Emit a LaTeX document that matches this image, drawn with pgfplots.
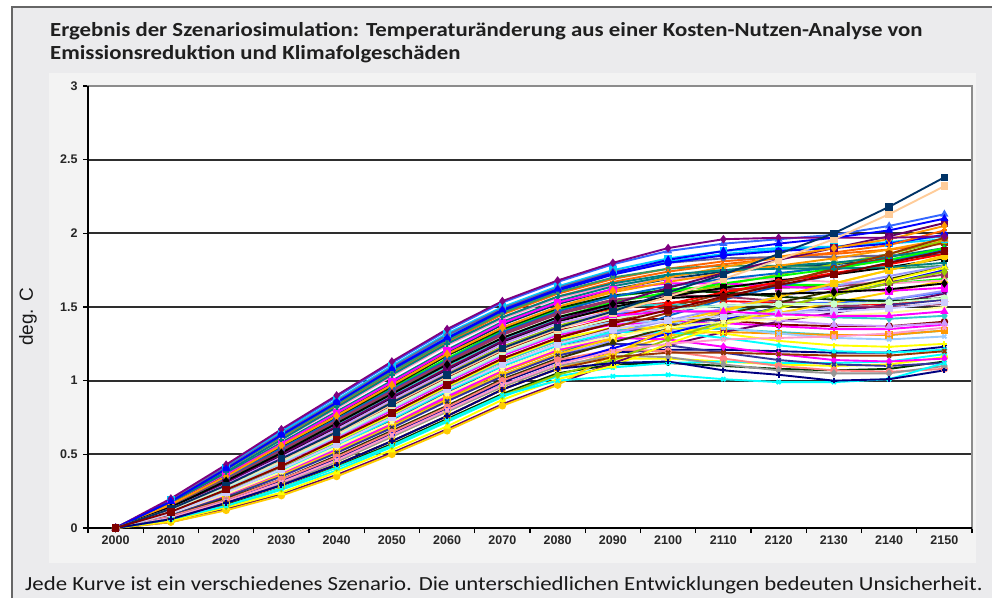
\documentclass[border=0pt]{standalone}
\usepackage{pgfplots}
\pgfplotsset{compat=1.18}
\usepackage{pgfplotstable}
\usepackage{fontspec}
\setmainfont{Carlito}
\newfontfamily\widef[FakeStretch=1.14]{Carlito}
\newfontfamily\arialf{Liberation Sans}
\definecolor{outerbg}{HTML}{EBEBED}
\definecolor{innerbg}{HTML}{F3F3F3}
\definecolor{framegray}{HTML}{666666}
\definecolor{c1}{HTML}{000080}
\definecolor{c2}{HTML}{FF00FF}
\definecolor{c3}{HTML}{FFFF00}
\definecolor{c4}{HTML}{00FFFF}
\definecolor{c5}{HTML}{800080}
\definecolor{c6}{HTML}{800000}
\definecolor{c7}{HTML}{008080}
\definecolor{c8}{HTML}{0000FF}
\definecolor{c9}{HTML}{00CCFF}
\definecolor{c10}{HTML}{CCFFCC}
\definecolor{c11}{HTML}{FFFF99}
\definecolor{c12}{HTML}{99CCFF}
\definecolor{c13}{HTML}{FF99CC}
\definecolor{c14}{HTML}{CC99FF}
\definecolor{c15}{HTML}{FFCC99}
\definecolor{c16}{HTML}{3366FF}
\definecolor{c17}{HTML}{33CCCC}
\definecolor{c18}{HTML}{99CC00}
\definecolor{c19}{HTML}{FFCC00}
\definecolor{c20}{HTML}{FF9900}
\definecolor{c21}{HTML}{FF6600}
\definecolor{c22}{HTML}{666699}
\definecolor{c23}{HTML}{969696}
\definecolor{c24}{HTML}{003366}
\definecolor{c25}{HTML}{339966}
\definecolor{c26}{HTML}{003300}
\definecolor{c27}{HTML}{333300}
\definecolor{c28}{HTML}{993300}
\definecolor{c29}{HTML}{993366}
\definecolor{c30}{HTML}{333399}
\definecolor{c31}{HTML}{000000}
\definecolor{c32}{HTML}{FF0000}
\definecolor{c33}{HTML}{00FF00}
\definecolor{c34}{HTML}{9999FF}
\definecolor{c35}{HTML}{FF8080}
\definecolor{c36}{HTML}{0066CC}
\definecolor{c37}{HTML}{660066}
\definecolor{c38}{HTML}{CCCCFF}

% one row per scenario, one column per year
\pgfplotstableread[header=has colnames]{
2000 2010 2020 2030 2040 2050 2060 2070 2080 2090 2100 2110 2120 2130 2140 2150
0 .20 .43 .67 .90 1.13 1.35 1.54 1.68 1.80 1.90 1.96 1.97 1.97 1.97 1.98
0 .19 .42 .66 .89 1.12 1.34 1.53 1.67 1.79 1.88 1.93 1.96 1.99 2.05 2.13
0 .19 .41 .65 .87 1.10 1.32 1.50 1.64 1.75 1.83 1.88 1.90 1.91 1.93 1.96
0 .19 .41 .64 .86 1.09 1.31 1.49 1.63 1.74 1.80 1.83 1.84 1.84 1.85 1.87
0 .18 .40 .63 .85 1.07 1.28 1.47 1.61 1.72 1.80 1.85 1.88 1.90 1.93 1.99
0 .18 .39 .62 .84 1.06 1.27 1.46 1.60 1.70 1.76 1.78 1.78 1.77 1.76 1.78
0 .18 .38 .60 .82 1.04 1.25 1.43 1.57 1.67 1.74 1.79 1.83 1.87 1.92 2.02
0 .17 .38 .60 .81 1.03 1.24 1.42 1.56 1.65 1.69 1.70 1.69 1.67 1.66 1.68
0 .17 .37 .58 .79 1.00 1.21 1.40 1.54 1.64 1.71 1.75 1.78 1.80 1.84 1.90
0 .16 .36 .57 .78 .99 1.20 1.39 1.53 1.62 1.66 1.66 1.64 1.62 1.61 1.63
0 .16 .35 .56 .76 .97 1.18 1.36 1.50 1.60 1.67 1.73 1.78 1.83 1.89 1.96
0 .16 .35 .55 .75 .96 1.17 1.35 1.49 1.58 1.61 1.60 1.57 1.55 1.54 1.56
0 .15 .34 .54 .74 .94 1.14 1.33 1.47 1.57 1.64 1.69 1.73 1.77 1.82 1.88
0 .15 .33 .53 .73 .93 1.13 1.32 1.46 1.55 1.58 1.57 1.54 1.51 1.50 1.52
0 .14 .32 .51 .71 .91 1.11 1.29 1.43 1.53 1.60 1.66 1.71 1.76 1.82 1.90
0 .14 .32 .51 .70 .90 1.10 1.28 1.42 1.50 1.52 1.50 1.46 1.43 1.42 1.44
0 .14 .31 .49 .68 .88 1.07 1.26 1.40 1.50 1.57 1.63 1.68 1.72 1.77 1.83
0 .13 .30 .48 .67 .87 1.06 1.25 1.39 1.47 1.48 1.45 1.41 1.38 1.37 1.39
0 .13 .29 .47 .65 .85 1.04 1.22 1.36 1.47 1.60 1.72 1.86 2.00 2.18 2.38
0 .13 .29 .46 .64 .84 1.03 1.21 1.35 1.46 1.57 1.69 1.82 1.96 2.13 2.32
0 .12 .28 .45 .63 .82 1.01 1.19 1.33 1.43 1.52 1.60 1.67 1.73 1.79 1.86
0 .12 .27 .44 .62 .81 1.00 1.18 1.32 1.40 1.40 1.36 1.32 1.29 1.28 1.30
0 .11 .26 .42 .60 .78 .97 1.15 1.29 1.39 1.48 1.57 1.65 1.72 1.80 1.88
0 .11 .26 .42 .59 .77 .96 1.14 1.28 1.36 1.36 1.32 1.27 1.24 1.23 1.25
0 .10 .24 .40 .57 .75 .94 1.11 1.25 1.36 1.46 1.56 1.66 1.76 1.86 1.97
0 .10 .24 .39 .56 .74 .93 1.10 1.24 1.33 1.33 1.29 1.24 1.20 1.19 1.21
0 .10 .23 .38 .54 .72 .90 1.08 1.22 1.32 1.41 1.49 1.57 1.64 1.71 1.78
0 .09 .22 .37 .53 .71 .89 1.07 1.21 1.29 1.28 1.23 1.18 1.14 1.13 1.15
0 .09 .21 .36 .52 .69 .87 1.04 1.18 1.29 1.39 1.48 1.57 1.66 1.75 1.85
0 .09 .21 .35 .51 .68 .86 1.03 1.17 1.25 1.24 1.19 1.14 1.11 1.10 1.12
0 .08 .20 .33 .49 .66 .83 1.01 1.15 1.26 1.36 1.45 1.53 1.61 1.69 1.77
0 .08 .19 .33 .48 .65 .82 1.00 1.14 1.21 1.20 1.15 1.10 1.07 1.06 1.08
0 .07 .18 .31 .46 .63 .80 .97 1.11 1.22 1.32 1.41 1.50 1.58 1.66 1.75
0 .07 .18 .30 .45 .62 .79 .96 1.10 1.17 1.16 1.11 1.07 1.05 1.05 1.10
0 .06 .17 .29 .43 .59 .76 .94 1.08 1.12 1.13 1.07 1.04 1.00 1.01 1.07
0 .06 .15 .27 .41 .56 .73 .90 1.00 1.03 1.04 1.01 .99 .99 1.01 1.12
0 .04 .12 .22 .35 .50 .66 .83 .97 1.18 1.35 1.47 1.57 1.66 1.75 1.84
0 .05 .14 .24 .38 .53 .69 .87 1.01 1.10 1.25 1.38 1.49 1.59 1.68 1.77
0 .06 .15 .27 .41 .56 .73 .90 1.04 1.14 1.28 1.40 1.50 1.58 1.66 1.74
0 .14 .31 .50 .69 .89 1.08 1.27 1.41 1.52 1.63 1.73 1.82 1.90 1.98 2.07
0 .18 .40 .63 .85 1.08 1.29 1.48 1.62 1.73 1.82 1.88 1.93 1.97 2.02 2.10
0 .10 .23 .38 .55 .72 .91 1.08 1.22 1.30 1.36 1.40 1.42 1.44 1.46 1.50
0 .12 .28 .45 .63 .82 1.01 1.19 1.33 1.42 1.48 1.51 1.52 1.52 1.53 1.56
0 .07 .18 .31 .46 .63 .80 .97 1.11 1.20 1.25 1.28 1.29 1.30 1.32 1.36
0 .16 .35 .56 .76 .97 1.18 1.36 1.50 1.61 1.70 1.77 1.84 1.90 1.96 2.05
0 .06 .17 .29 .43 .59 .76 .94 1.08 1.16 1.19 1.19 1.18 1.17 1.17 1.20
0 .10 .24 .40 .57 .75 .94 1.11 1.25 1.35 1.41 1.44 1.46 1.47 1.49 1.53
0 .18 .38 .60 .82 1.04 1.25 1.43 1.57 1.66 1.72 1.75 1.76 1.76 1.77 1.80
0 .13 .29 .47 .65 .85 1.04 1.22 1.36 1.44 1.47 1.47 1.45 1.44 1.44 1.47
0 .14 .32 .51 .71 .91 1.11 1.29 1.43 1.52 1.56 1.58 1.59 1.60 1.62 1.66
0 .19 .40 .64 .86 1.08 1.30 1.48 1.62 1.73 1.81 1.86 1.89 1.91 1.94 1.98
0 .18 .39 .61 .83 1.05 1.26 1.45 1.59 1.69 1.76 1.81 1.84 1.86 1.89 1.93
0 .16 .36 .57 .77 .98 1.19 1.38 1.52 1.62 1.69 1.74 1.77 1.79 1.82 1.86
0 .15 .34 .54 .74 .95 1.15 1.34 1.48 1.57 1.62 1.64 1.65 1.65 1.66 1.69
0 .15 .33 .52 .72 .92 1.12 1.31 1.45 1.54 1.59 1.62 1.63 1.64 1.67 1.72
0 .14 .31 .50 .69 .89 1.09 1.27 1.41 1.49 1.53 1.54 1.53 1.52 1.52 1.55
0 .13 .30 .48 .66 .86 1.05 1.23 1.37 1.45 1.49 1.51 1.52 1.53 1.55 1.60
0 .12 .28 .46 .64 .83 1.02 1.20 1.34 1.41 1.42 1.41 1.38 1.37 1.37 1.40
0 .12 .27 .44 .61 .80 .99 1.17 1.31 1.38 1.40 1.39 1.37 1.35 1.35 1.38
0 .11 .25 .41 .58 .76 .95 1.13 1.27 1.34 1.36 1.35 1.33 1.31 1.31 1.34
0 .10 .24 .39 .56 .73 .92 1.10 1.24 1.32 1.38 1.42 1.45 1.48 1.51 1.55
0 .09 .22 .36 .53 .70 .88 1.06 1.20 1.28 1.32 1.33 1.32 1.31 1.31 1.34
0 .09 .21 .35 .51 .68 .86 1.03 1.17 1.27 1.34 1.40 1.45 1.50 1.55 1.61
0 .08 .19 .32 .47 .64 .81 .99 1.13 1.19 1.21 1.21 1.20 1.19 1.19 1.23
0 .07 .17 .30 .45 .62 .79 .96 1.10 1.15 1.15 1.13 1.11 1.10 1.11 1.16
0 .06 .16 .27 .42 .57 .74 .91 1.05 1.11 1.12 1.10 1.08 1.07 1.08 1.13
0 .05 .14 .26 .39 .55 .72 .89 1.03 1.09 1.12 1.13 1.12 1.12 1.13 1.18
0 .09 .21 .36 .52 .69 .87 1.04 1.18 1.31 1.44 1.55 1.64 1.72 1.80 1.89
0 .11 .26 .42 .60 .78 .97 1.15 1.29 1.40 1.50 1.59 1.67 1.75 1.84 1.94
0 .06 .17 .29 .43 .59 .76 .94 1.08 1.19 1.30 1.39 1.46 1.53 1.60 1.68
0 .04 .13 .23 .36 .51 .67 .84 .98 1.12 1.24 1.33 1.40 1.46 1.52 1.59
0 .13 .30 .48 .66 .86 1.05 1.23 1.37 1.48 1.57 1.65 1.72 1.79 1.86 1.95
}\Raw
\pgfplotstabletranspose\Data\Raw

\newcommand\Ser[3]{\addplot[color=#2,mark=#3] table[x=colnames,y index=#1]{\Data};}

\begin{document}
\begin{tikzpicture}
\useasboundingbox (0pt,0pt) rectangle (992pt,598pt);
\fill[white] (0pt,0pt) rectangle (992pt,598pt);
\fill[outerbg] (12pt,0pt) rectangle (992pt,591pt);
\draw[framegray, line width=1.3pt] (12pt,0pt) -- (12pt,591pt) -- (992pt,591pt);
\fill[innerbg] (49pt,35pt) rectangle (976pt,525pt);
\node[anchor=base west, inner sep=0pt, font=\widef\bfseries\fontsize{20}{22}\selectfont, text=black!88] at (50pt,561pt) {Ergebnis der Szenariosimulation: Temperaturänderung aus einer Kosten-Nutzen-Analyse von};
\node[anchor=base west, inner sep=0pt, font=\widef\bfseries\fontsize{20}{22}\selectfont, text=black!88] at (50pt,538pt) {Emissionsreduktion und Klimafolgeschäden};
\node[rotate=90, inner sep=0pt, font=\arialf\fontsize{19}{19}\selectfont, text=black!90] at (28pt,281pt) {deg. C};
\node[anchor=base west, inner sep=0pt, font=\widef\fontsize{20}{22}\selectfont, text=black!90] at (25pt,8pt) {Jede Kurve ist ein verschiedenes Szenario. Die unterschiedlichen Entwicklungen bedeuten Unsicherheit.};
\begin{axis}[
  at={(88pt,70pt)}, anchor=south west,
  scale only axis, width=884pt, height=442pt,
  xmin=1995, xmax=2155, ymin=0, ymax=3,
  axis background/.style={fill=white},
  axis line style={draw=black!45, line width=1.4pt},
  ytick={0,0.5,1,1.5,2,2.5,3},
  yticklabels={0,0.5,1,1.5,2,2.5,3},
  xtick={1995,2005,...,2155},
  xticklabels={},
  extra x ticks={2000,2010,...,2150},
  extra x tick labels={2000,2010,2020,2030,2040,2050,2060,2070,2080,2090,2100,2110,2120,2130,2140,2150},
  extra x tick style={major tick length=0pt, grid=none},
  tick align=outside,
  major tick length=5pt,
  tick style={black, line width=1.3pt},
  xtick pos=bottom, ytick pos=left,
  ymajorgrids,
  major grid style={black!82, line width=1.7pt},
  yticklabel style={font=\arialf\bfseries\fontsize{12.5}{12.5}\selectfont, text=black!85, xshift=-2pt},
  xticklabel style={font=\arialf\bfseries\fontsize{12.5}{12.5}\selectfont, text=black!85, yshift=-4pt},
  every axis plot/.append style={line width=1.9pt, mark size=2.8pt, mark options={solid}},
  clip=false,
]
\draw[black, line width=1.6pt] (rel axis cs:0,1) -- (rel axis cs:0,0) -- (rel axis cs:1,0);
\Ser{51}{c9}{*}
\Ser{52}{c21}{+}
\Ser{53}{c24}{star}
\Ser{54}{c33}{diamond*}
\Ser{55}{c29}{square*}
\Ser{56}{c32}{triangle*}
\Ser{57}{c16}{x}
\Ser{58}{c6}{*}
\Ser{59}{c2}{+}
\Ser{60}{c17}{star}
\Ser{61}{c30}{diamond*}
\Ser{62}{c20}{square*}
\Ser{63}{c34}{triangle*}
\Ser{64}{c1}{x}
\Ser{65}{c3}{*}
\Ser{66}{c26}{+}
\Ser{67}{c4}{star}
\Ser{68}{c36}{diamond*}
\Ser{69}{c28}{square*}
\Ser{70}{c19}{triangle*}
\Ser{71}{c37}{x}
\Ser{72}{c18}{*}
\Ser{2}{c16}{triangle*}
\Ser{3}{c9}{square*}
\Ser{4}{c22}{diamond*}
\Ser{5}{c8}{*}
\Ser{6}{c25}{x}
\Ser{7}{c21}{+}
\Ser{8}{c13}{star}
\Ser{9}{c7}{diamond*}
\Ser{10}{c2}{square*}
\Ser{11}{c20}{triangle*}
\Ser{12}{c26}{x}
\Ser{13}{c36}{*}
\Ser{14}{c29}{star}
\Ser{15}{c33}{+}
\Ser{16}{c17}{diamond*}
\Ser{17}{c31}{square*}
\Ser{18}{c14}{triangle*}
\Ser{21}{c32}{*}
\Ser{22}{c12}{x}
\Ser{24}{c3}{+}
\Ser{25}{c28}{*}
\Ser{26}{c4}{star}
\Ser{27}{c34}{triangle*}
\Ser{28}{c2}{diamond*}
\Ser{29}{c19}{square*}
\Ser{30}{c30}{x}
\Ser{31}{c27}{triangle*}
\Ser{32}{c35}{*}
\Ser{33}{c8}{+}
\Ser{34}{c23}{diamond*}
\Ser{37}{c19}{*}
\Ser{38}{c3}{triangle*}
\Ser{39}{c18}{diamond*}
\Ser{40}{c37}{square*}
\Ser{42}{c11}{star}
\Ser{43}{c10}{*}
\Ser{44}{c13}{x}
\Ser{45}{c20}{diamond*}
\Ser{46}{c28}{x}
\Ser{47}{c38}{square*}
\Ser{48}{c7}{+}
\Ser{49}{c2}{triangle*}
\Ser{50}{c31}{diamond*}
\Ser{36}{c4}{x}
\Ser{1}{c5}{diamond*}
\Ser{41}{c8}{triangle*}
\Ser{20}{c15}{square*}
\Ser{19}{c24}{square*}
\Ser{35}{c1}{+}
\Ser{23}{c6}{square*}
\end{axis}
\end{tikzpicture}
\end{document}
